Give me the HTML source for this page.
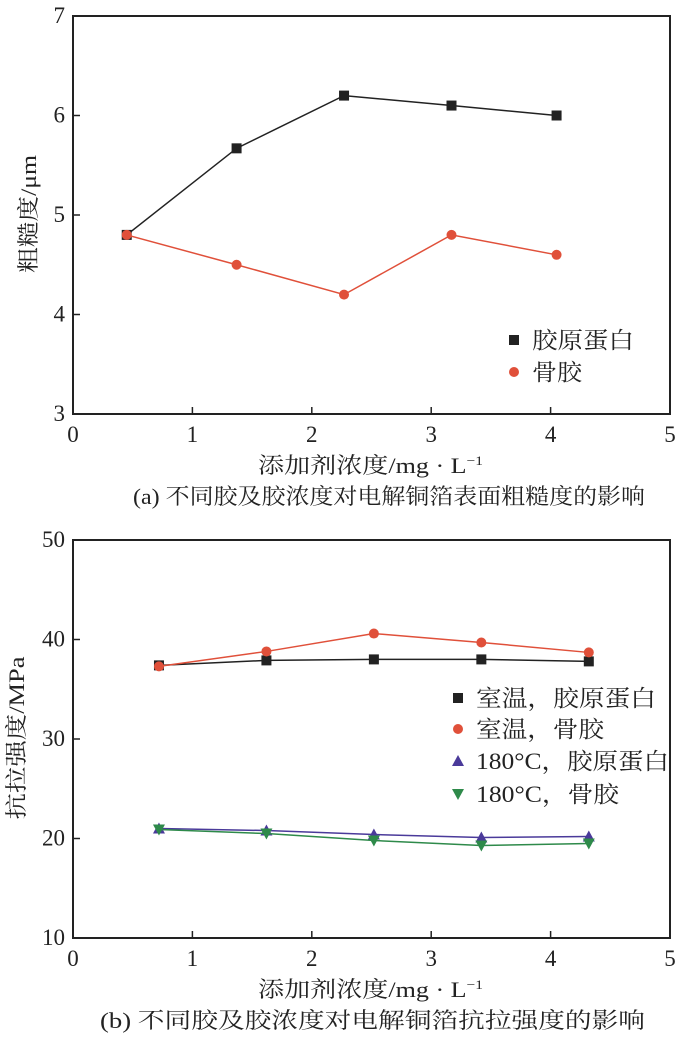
<!DOCTYPE html>
<html><head><meta charset="utf-8"><style>
body{margin:0;background:#fff}
svg text{font-family:"Liberation Serif","Noto Serif CJK SC",serif;fill:#222}
</style></head><body>
<svg id="s" width="677" height="1042" xmlns="http://www.w3.org/2000/svg"></svg>
<script>
const xTicks=[0,1,2,3,4,5];
const aYTicks=[3,4,5,6,7];
const aX=[0.45,1.37,2.27,3.17,4.05];
const aCollagen=[4.8,5.67,6.2,6.1,6.0];
const aBone=[4.8,4.5,4.2,4.8,4.6];
const bYTicks=[10,20,30,40,50];
const bX=[0.72,1.62,2.52,3.42,4.32];
const bRoomCollagen=[37.4,37.9,38.0,38.0,37.8];
const bRoomBone=[37.3,38.8,40.6,39.7,38.7];
const bHotCollagen=[21.0,20.8,20.4,20.1,20.2];
const bHotBone=[20.9,20.5,19.8,19.3,19.5];

const S=document.getElementById('s');const NS='http://www.w3.org/2000/svg';
function el(t,a,txt){const e=document.createElementNS(NS,t);for(const k in a)e.setAttribute(k,a[k]);if(txt!==undefined)e.textContent=txt;S.appendChild(e);return e;}
function chart(top,bot,ymin,ymax,yT,pfx,ylabel,ylen,ycen,yx,caption,capx,caplen){
  const L=73,R=670;
  const sx=v=>L+(v-0)/(5-0)*(R-L);
  const sy=v=>bot-(v-ymin)/(ymax-ymin)*(bot-top);
  const f=el('rect',{x:L,y:top,width:R-L,height:bot-top,fill:'none',stroke:'#222','stroke-width':2});
  
  xTicks.forEach(t=>{
    const l=el('line',{x1:sx(t),x2:sx(t),y1:bot,y2:bot-7,stroke:'#222','stroke-width':1.5});
    
    const tx=el('text',{x:sx(t),y:bot+28,'font-size':23,'text-anchor':'middle'},t);
    
  });
  yT.forEach(t=>{
    const l=el('line',{x1:L,x2:L+7,y1:sy(t),y2:sy(t),stroke:'#222','stroke-width':1.5});
    
    const tx=el('text',{x:L-8,y:sy(t)+7,'font-size':23,'text-anchor':'end'},t);
    
  });
  const xt=el('text',{x:258,y:bot+59,'font-size':22,textLength:225,lengthAdjust:'spacingAndGlyphs'});
  xt.innerHTML='添加剂浓度/mg · L<tspan dy="-8" font-size="13">−1</tspan>';
  
  const yt=el('text',{x:-ylen/2,y:0,'font-size':22,textLength:ylen,lengthAdjust:'spacingAndGlyphs',transform:`translate(${yx},${ycen}) rotate(-90)`},ylabel);
  
  const cp=el('text',{x:capx,y:bot+90,'font-size':22,textLength:caplen,lengthAdjust:'spacingAndGlyphs'},caption);
  
  return {sx,sy};
}
function marker(kind,x,y,c,name){
  let e;
  if(kind==='sq')e=el('rect',{x:x-5,y:y-5,width:10,height:10,fill:c});
  else if(kind==='ci')e=el('circle',{cx:x,cy:y,r:5,fill:c});
  else if(kind==='up')e=el('polygon',{points:`${x-6},${y+5} ${x+6},${y+5} ${x},${y-6}`,fill:c});
  else e=el('polygon',{points:`${x-6},${y-5} ${x+6},${y-5} ${x},${y+6}`,fill:c});
  
}
function series(ax,xs,ys,c,kind,name){
  const p=el('polyline',{points:xs.map((x,i)=>ax.sx(x)+','+ax.sy(ys[i])).join(' '),fill:'none',stroke:c,'stroke-width':1.5});
  
  xs.forEach((x,i)=>marker(kind,ax.sx(x),ax.sy(ys[i]),c,name+'-point'));
}
function legend(x,y,kind,c,label,len,name){
  marker(kind,x,y,c,name+'-marker');
  const t=el('text',{x:x+18,y:y+8,'font-size':23,textLength:len,lengthAdjust:'spacingAndGlyphs'},label);
  
}
const A=chart(16,414,3,7,aYTicks,'a-','粗糙度/μm',118,214,36,'(a) 不同胶及胶浓度对电解铜箔表面粗糙度的影响',133,512);
series(A,aX,aCollagen,'#222','sq','a-collagen');
series(A,aX,aBone,'#e0503a','ci','a-bone-glue');
legend(514,340,'sq','#222','胶原蛋白',102,'legend-entry-collagen');
legend(514,372,'ci','#e0503a','骨胶',50,'legend-entry-bone-glue');
const B=chart(540,938,10,50,bYTicks,'b-','抗拉强度/MPa',163,738,24,'(b) 不同胶及胶浓度对电解铜箔抗拉强度的影响',100,545);
series(B,bX,bRoomCollagen,'#222','sq','b-room-collagen');
series(B,bX,bRoomBone,'#e0503a','ci','b-room-bone-glue');
series(B,bX,bHotCollagen,'#4a3a9a','up','b-180-collagen');
series(B,bX,bHotBone,'#2e8a4a','dn','b-180-bone-glue');
legend(458,698,'sq','#222','室温，胶原蛋白',180,'legend-entry-room-collagen');
legend(458,729,'ci','#e0503a','室温，骨胶',128,'legend-entry-room-bone-glue');
legend(458,761,'up','#4a3a9a','180°C，胶原蛋白',193,'legend-entry-180-collagen');
legend(458,794,'dn','#2e8a4a','180°C，骨胶',143,'legend-entry-180-bone-glue');
</script>
</body></html>
